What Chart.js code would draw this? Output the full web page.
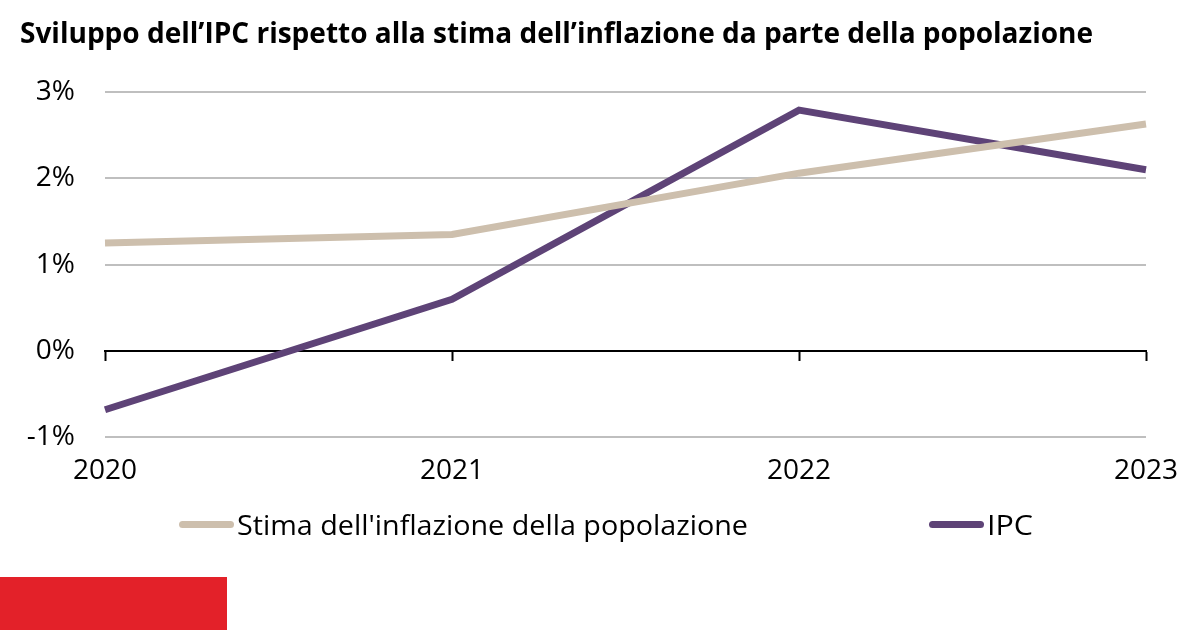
<!DOCTYPE html>
<html>
<head>
<meta charset="utf-8">
<script src="https://cdn.jsdelivr.net/npm/chart.js@4/dist/chart.umd.min.js"></script>
<style>
  html, body { margin: 0; padding: 0; background: #fff; }
  #wrap { position: relative; width: 1200px; height: 630px; overflow: hidden; }
  #c { position: absolute; left: 0; top: 0; }
  .fit { position: absolute; white-space: nowrap; transform-origin: 0 50%; color: #000; }
  #title { left: 20px; top: 13px; font: bold 28px "Open Sans", "Noto Sans", sans-serif; line-height: 38px; }
  .leg { position: absolute; top: 510px; height: 30px; }
  .swatch { position: absolute; top: 11px; height: 7px; border-radius: 4px; }
  .legtxt { font: 27px "Liberation Sans Narrow", "Open Sans", sans-serif; line-height: 30px; top: 0; }
  #red { position: absolute; left: 0; top: 577px; width: 227px; height: 53px; background: #E32129; }
</style>
</head>
<body>
<div id="wrap">
  <canvas id="c" width="1200" height="630"></canvas>
  <div id="title" class="fit" data-w="1073">Sviluppo dell’IPC rispetto alla stima dell’inflazione da parte della popolazione</div>
  <div id="legend"></div>
  <div id="red"></div>
</div>
<script>
const years = ['2020', '2021', '2022', '2023'];
const stimaValues = [1.25, 1.35, 2.06, 2.63];
const ipcValues = [-0.68, 0.6, 2.79, 2.1];
const yTickValues = [-1, 0, 1, 2, 3];
const yTickLabels = ['-1%', '0%', '1%', '2%', '3%'];
const seriesNames = ["Stima dell'inflazione della popolazione", 'IPC'];

const colStima = '#CDBFAD';
const colIpc = '#5E4377';

function fitText(el, w) {
  el.style.transform = 'none';
  const nat = el.getBoundingClientRect().width;
  el.style.transform = 'scaleX(' + (w / nat) + ')';
}

// HTML legend
const legend = document.getElementById('legend');
const legItems = [
  { name: seriesNames[0], color: colStima, x: 179, tw: 511 },
  { name: seriesNames[1], color: colIpc, x: 929, tw: 46 }
];
legItems.forEach(it => {
  const d = document.createElement('div');
  d.className = 'leg';
  d.style.left = it.x + 'px';
  const sw = document.createElement('div');
  sw.className = 'swatch';
  sw.style.left = '0px';
  sw.style.width = '55px';
  sw.style.background = it.color;
  const t = document.createElement('div');
  t.className = 'fit legtxt';
  t.style.left = '58px';
  t.textContent = it.name;
  d.appendChild(sw);
  d.appendChild(t);
  legend.appendChild(d);
  it.el = t;
});

const tickFont = { family: '"Open Sans", "Noto Sans", sans-serif', size: 28 };

new Chart(document.getElementById('c'), {
  type: 'line',
  data: {
    labels: years,
    datasets: [
      { label: seriesNames[0], data: stimaValues, borderColor: colStima, borderWidth: 7, pointRadius: 0, tension: 0, xAxisID: 'x', yAxisID: 'y' },
      { label: seriesNames[1], data: ipcValues, borderColor: colIpc, borderWidth: 7, pointRadius: 0, tension: 0, xAxisID: 'x', yAxisID: 'y' }
    ]
  },
  options: {
    responsive: false,
    animation: false,
    devicePixelRatio: 1,
    layout: { padding: { top: 92, right: 54, bottom: 125, left: 0 } },
    plugins: { legend: { display: false }, tooltip: { enabled: false }, title: { display: false } },
    scales: {
      x: {
        type: 'category',
        position: { y: 0 },
        offset: false,
        ticks: { display: false },
        grid: { display: true, drawOnChartArea: false, drawTicks: true, tickLength: 9, tickWidth: 2, tickColor: '#000' },
        border: { display: true, color: '#000', width: 2 }
      },
      x2: {
        type: 'category',
        labels: years,
        position: 'bottom',
        offset: false,
        ticks: { display: true, color: '#000', font: tickFont, padding: 17, maxRotation: 0, autoSkip: false },
        grid: { display: false, drawTicks: false },
        border: { display: false }
      },
      y: {
        type: 'linear',
        min: -1,
        max: 3,
        afterBuildTicks: s => { s.ticks = yTickValues.map(v => ({ value: v })); },
        afterFit: s => { s.width = 105; },
        ticks: {
          color: '#000',
          font: tickFont,
          padding: 30,
          callback: v => yTickLabels[yTickValues.indexOf(v)]
        },
        grid: {
          drawTicks: false,
          lineWidth: 2,
          color: ctx => (ctx.tick && ctx.tick.value === 0) ? 'rgba(0,0,0,0)' : '#BFBFBF'
        },
        border: { display: false }
      }
    }
  }
});

function doFit() {
  fitText(document.getElementById('title'), 1073);
  legItems.forEach(it => fitText(it.el, it.tw));
}
if (document.fonts && document.fonts.ready) {
  document.fonts.ready.then(doFit);
}
doFit();
</script>
</body>
</html>
